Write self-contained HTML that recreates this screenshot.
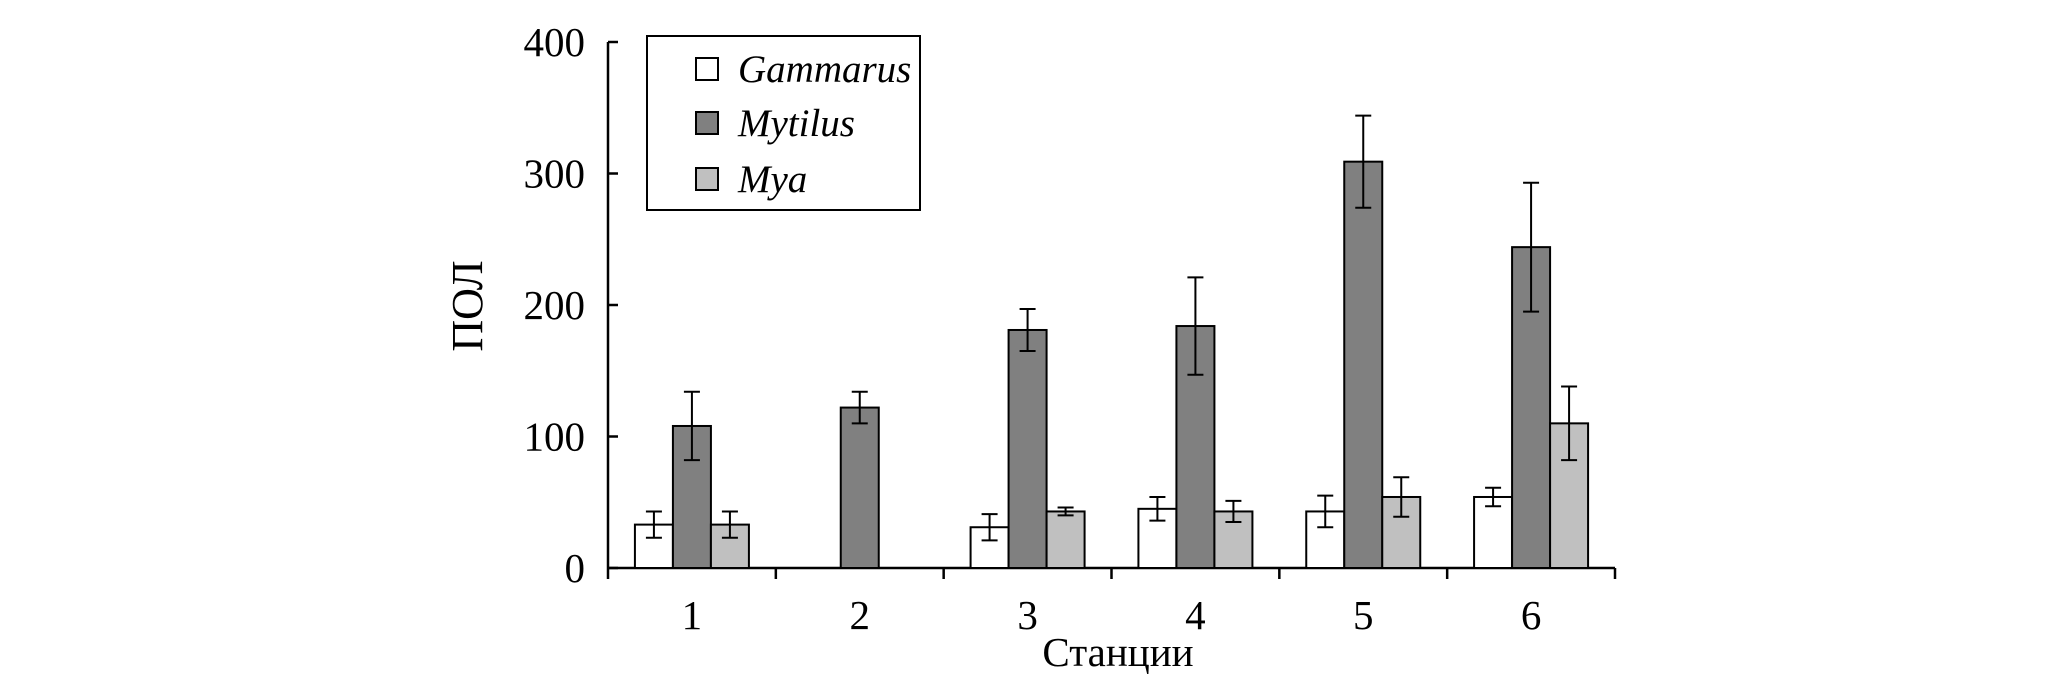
<!DOCTYPE html>
<html><head><meta charset="utf-8"><style>
body{margin:0;background:#fff;width:2067px;height:696px;overflow:hidden}
svg{display:block;font-family:"Liberation Serif",serif}
</style></head><body>
<svg id="chart" width="2067" height="696" viewBox="0 0 2067 696" xmlns="http://www.w3.org/2000/svg"></svg>
<script>
const categories=["1","2","3","4","5","6"];
const gammarus=[33,0,31,45,43,54];
const gammarusErr=[10,0,10,9,12,7];
const mytilus=[108,122,181,184,309,244];
const mytilusErr=[26,12,16,37,35,49];
const mya=[33,0,43,43,54,110];
const myaErr=[10,0,3,8,15,28];
const yTicks=[0,100,200,300,400];
const seriesNames=["Gammarus","Mytilus","Mya"];

const NS="http://www.w3.org/2000/svg";
const svg=document.getElementById('chart');
const X0=608,X1=1615,Y0=568,Y400=42;
const catW=(X1-X0)/categories.length;
const barW=38;
function y(v){return Y0-(v/400)*(Y0-Y400);}
function mk(tag,attrs,parent){const e=document.createElementNS(NS,tag);for(const k in attrs)e.setAttribute(k,attrs[k]);(parent||svg).appendChild(e);return e;}

let ax=mk('line',{x1:X0,y1:Y400,x2:X0,y2:Y0,stroke:'#000','stroke-width':2.5});


let bx=mk('line',{x1:X0,y1:Y0,x2:X1,y2:Y0,stroke:'#000','stroke-width':2.5});


yTicks.forEach(t=>{
  let l=mk('line',{x1:X0,y1:y(t),x2:X0+10,y2:y(t),stroke:'#000','stroke-width':2.5});
  
  
  let tx=mk('text',{x:585,y:y(t)+14,'font-size':41,'text-anchor':'end'});
  tx.textContent=t;
  
  
});
for(let i=0;i<=categories.length;i++){
  let xx=X0+i*catW;
  let l=mk('line',{x1:xx,y1:Y0,x2:xx,y2:Y0+11,stroke:'#000','stroke-width':2.5});
  
  
}
const series=[[gammarus,gammarusErr,'#ffffff'],[mytilus,mytilusErr,'#808080'],[mya,myaErr,'#c0c0c0']];
categories.forEach((c,i)=>{
  const gx=X0+i*catW+(catW-3*barW)/2;
  series.forEach((s,j)=>{
    const v=s[0][i];if(v<=0)return;
    const bx0=gx+j*barW;
    let r=mk('rect',{x:bx0,y:y(v),width:barW,height:Y0-y(v),fill:s[2],stroke:'#000','stroke-width':2});
    
    
    const e=s[1][i];if(e>0){
      const cx=bx0+barW/2;
      let g=mk('path',{d:`M${cx},${y(v+e)}V${y(v-e)}M${cx-8},${y(v+e)}H${cx+8}M${cx-8},${y(v-e)}H${cx+8}`,stroke:'#000','stroke-width':2,fill:'none'});
      
      
    }
  });
  let t=mk('text',{x:X0+(i+0.5)*catW,y:629,'font-size':41,'text-anchor':'middle'});
  t.textContent=c;
  
  
});
let xt=mk('text',{x:1118,y:666,'font-size':41,'text-anchor':'middle'});
xt.textContent='Станции';


let yt=mk('text',{x:0,y:0,'font-size':44,'text-anchor':'middle',transform:'translate(482,306) rotate(-90)'});
yt.textContent='ПОЛ';


let lg=mk('rect',{x:647,y:36,width:273,height:174,fill:'#fff',stroke:'#000','stroke-width':2});


const rowsY=[69,123,179];
series.forEach((s,j)=>{
  let sw=mk('rect',{x:696,y:rowsY[j]-11,width:22,height:22,fill:s[2],stroke:'#000','stroke-width':2});
  
  
  let t=mk('text',{x:738,y:rowsY[j]+13,'font-size':39,'font-style':'italic'});
  t.textContent=seriesNames[j];
  
  
});
</script>
</body></html>
